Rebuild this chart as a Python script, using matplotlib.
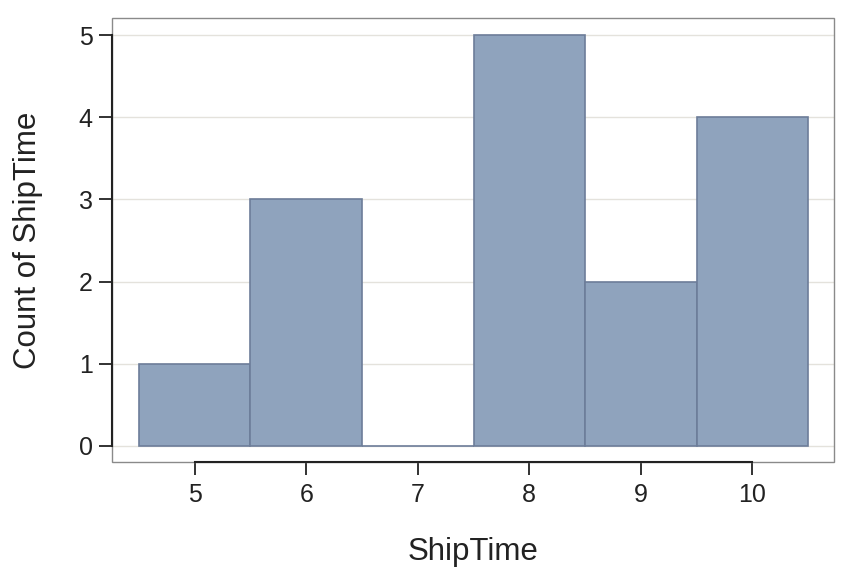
import matplotlib
matplotlib.use("Agg")
import matplotlib.pyplot as plt
from matplotlib.patches import Rectangle

plt.rcParams['font.family'] = ['Liberation Sans', 'DejaVu Sans']

ship_time = [5, 6, 7, 8, 9, 10]
counts = [1, 3, 0, 5, 2, 4]
y_ticks = [0, 1, 2, 3, 4, 5]

fig = plt.figure(figsize=(8.64, 5.76), dpi=100)
ax = fig.add_axes([112/864, 1-462/576, (834-112)/864, (462-18)/576])

ax.set_axisbelow(True)
for y in y_ticks:
    ax.axhline(y, color='#e4e2dc', lw=1.0, zorder=0)

ax.bar(ship_time, counts, width=1.0, color='#8fa3bd', edgecolor='#6d7d99',
       linewidth=1.2, zorder=2)

ax.set_xlim(4.258, 10.733)
ax.set_ylim(-0.195, 5.207)
ax.set_xticks(ship_time)
ax.set_yticks(y_ticks)

for s in ['top', 'right']:
    ax.spines[s].set_visible(False)
ax.spines['left'].set_bounds(0, 5)
ax.spines['bottom'].set_bounds(5, 10)
for s in ['left', 'bottom']:
    ax.spines[s].set_color('#222222')
    ax.spines[s].set_linewidth(1.5)
    ax.spines[s].set_zorder(5)

frame = Rectangle((0, 0), 1, 1, transform=ax.transAxes, fill=False,
                  edgecolor='#8a8a8a', linewidth=1.0, zorder=4, clip_on=False)
ax.add_patch(frame)

ax.tick_params(axis='both', direction='out', length=9.4, width=1.3,
               color='#222222', labelsize=18, labelcolor='#222222')
ax.tick_params(axis='x', pad=6)
ax.tick_params(axis='y', pad=4.5)

ax.set_xlabel('ShipTime', fontsize=22.5, color='#222222', labelpad=21)
ax.set_ylabel('Count of ShipTime', fontsize=22.5, color='#222222', labelpad=26)

fig.savefig('out.png', dpi=100)
